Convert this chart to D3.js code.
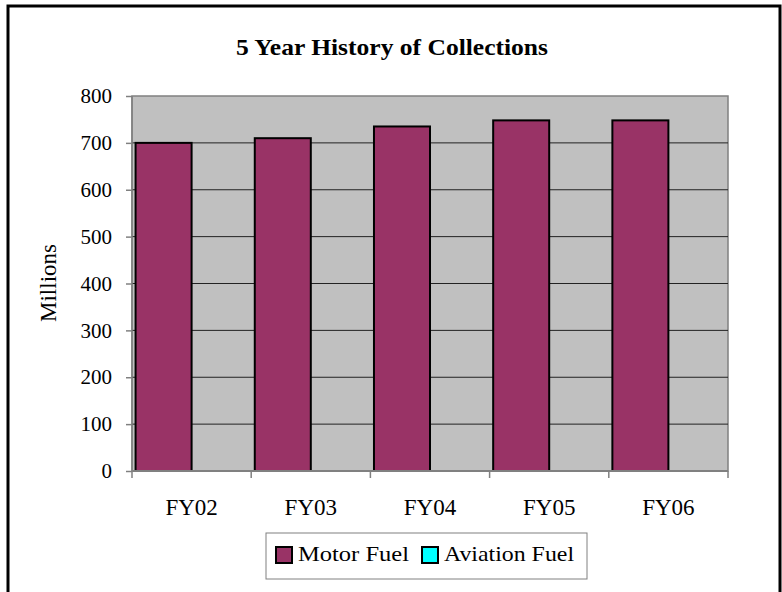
<!DOCTYPE html>
<html>
<head>
<meta charset="utf-8">
<script src="https://cdn.jsdelivr.net/npm/d3@7"></script>
<style>
  body { margin: 0; background: #fff; }
</style>
</head>
<body>
<div id="chart"></div>
<script>
// chart data
var years = ["FY02", "FY03", "FY04", "FY05", "FY06"];
var seriesNames = ["Motor Fuel", "Aviation Fuel"];
var motorFuel = [700, 710, 735, 748, 748];
var aviationFuel = [0, 0, 0, 0, 0];
var yTicks = [0, 100, 200, 300, 400, 500, 600, 700, 800];
var colors = ["#993366", "#00FFFF"];

var svgWidth = 782;
var svgHeight = 592;
var margin = {top: 96, right: 54, bottom: 121, left: 132};
var width = svgWidth - margin.left - margin.right;
var height = svgHeight - margin.top - margin.bottom;

var svg = d3.select("#chart").append("svg")
    .attr("width", svgWidth).attr("height", svgHeight);

// outer border
svg.append("rect")
    .attr("x", 8).attr("y", 6)
    .attr("width", 772).attr("height", 592)
    .attr("fill", "none").attr("stroke", "#000").attr("stroke-width", 3);

svg.append("text")
    .attr("x", 236).attr("y", 55)
    .attr("font-size", "24px").attr("font-weight", "bold")
    .attr("textLength", 312).attr("lengthAdjust", "spacingAndGlyphs")
    .text("5 Year History of Collections");

var chart = svg.append("g").attr("transform", `translate(${margin.left},${margin.top})`);

var x = d3.scaleBand().domain(years).range([0, width]).paddingInner(0.06).paddingOuter(0.03);
var x1 = d3.scaleBand().domain(seriesNames).range([0, x.bandwidth()]);
var y = d3.scaleLinear().domain([0, 800]).range([height, 0]);

// plot area
chart.append("rect")
    .attr("width", width).attr("height", height)
    .attr("fill", "#C0C0C0").attr("stroke", "#808080").attr("stroke-width", 1.5);

// gridlines
chart.selectAll(".grid")
    .data(yTicks.filter(function (d) { return d > 0 && d < 800; }))
    .enter().append("line")
    .attr("x1", 0).attr("x2", width)
    .attr("y1", function (d) { return y(d); })
    .attr("y2", function (d) { return y(d); })
    .attr("stroke", "#222").attr("stroke-width", 1);

// bars
var rows = years.map(function (yr, i) {
    return {year: yr, values: [motorFuel[i], aviationFuel[i]]};
});
var groups = chart.selectAll(".grp").data(rows).enter().append("g")
    .attr("transform", function (d) { return `translate(${x(d.year)},0)`; });
groups.selectAll("rect")
    .data(function (d) { return d.values.map(function (v, j) { return {name: seriesNames[j], value: v}; }); })
    .enter().filter(function (d) { return d.value > 0; })
    .append("rect")
    .attr("x", function (d) { return x1(d.name); })
    .attr("y", function (d) { return y(d.value); })
    .attr("width", x1.bandwidth())
    .attr("height", function (d) { return height - y(d.value); })
    .attr("fill", function (d) { return colors[seriesNames.indexOf(d.name)]; })
    .attr("stroke", "#000").attr("stroke-width", 2);

// y axis
var yAxis = chart.append("g")
    .call(d3.axisLeft(y).tickValues(yTicks).tickSize(6).tickPadding(14));
yAxis.attr("font-size", "21px");
yAxis.selectAll("text").attr("fill", "#000");
yAxis.selectAll("line, path").attr("stroke", "#808080").attr("stroke-width", 1.5);
yAxis.select(".domain").attr("d", `M0,0V${height}`);

// x axis
var xa = chart.append("g").attr("transform", `translate(0,${height})`);
xa.append("line").attr("x1", 0).attr("x2", width).attr("stroke", "#808080").attr("stroke-width", 2);
var step = width / years.length;
xa.selectAll(".tk").data(d3.range(years.length + 1)).enter().append("line")
    .attr("x1", function (i) { return i * step; }).attr("x2", function (i) { return i * step; })
    .attr("y1", 0).attr("y2", 7)
    .attr("stroke", "#808080").attr("stroke-width", 1.5);
xa.selectAll(".lbl").data(years).enter().append("text")
    .attr("x", function (d) { return x(d) + x.bandwidth() / 2; })
    .attr("y", 44)
    .attr("text-anchor", "middle")
    .attr("font-size", "23px")
    .text(function (d) { return d; });

// y label
svg.append("text")
    .attr("transform", "translate(56,283)rotate(-90)")
    .attr("text-anchor", "middle")
    .attr("font-size", "23px")
    .text("Millions");

// legend
var legend = svg.append("g").attr("transform", "translate(266,533)");
legend.append("rect").attr("width", 321).attr("height", 46)
    .attr("fill", "#fff").attr("stroke", "#808080").attr("stroke-width", 1);
var legX = [10, 156];
var legW = [111, 130];
seriesNames.forEach(function (name, i) {
    legend.append("rect")
        .attr("x", legX[i]).attr("y", 14).attr("width", 16).attr("height", 16)
        .attr("fill", colors[i]).attr("stroke", "#000").attr("stroke-width", 2);
    legend.append("text")
        .attr("x", legX[i] + 22).attr("y", 28)
        .attr("font-size", "22px")
        .attr("textLength", legW[i]).attr("lengthAdjust", "spacingAndGlyphs")
        .text(name);
});

// same serif face everywhere
svg.selectAll("text")
    .style("font-family", "'Liberation Serif', 'Times New Roman', serif")
    .style("fill", "#000");
</script>
</body>
</html>
